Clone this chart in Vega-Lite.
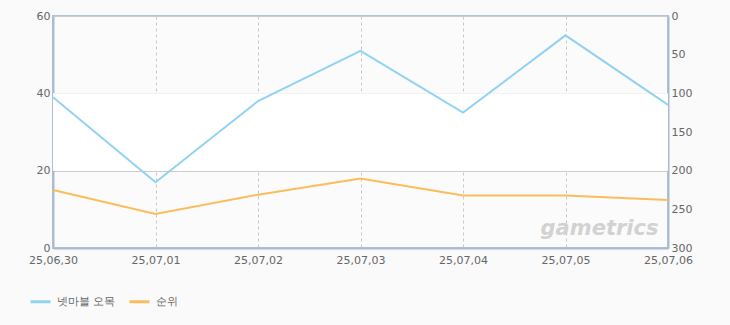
{
  "$schema": "https://vega.github.io/schema/vega-lite/v6.json",
  "width": 615,
  "height": 232,
  "autosize": "none",
  "padding": {"left": 53, "top": 16, "right": 62, "bottom": 77},
  "background": "#fafafa",
  "config": {
    "view": {"stroke": "#b4c3d6", "strokeWidth": 2, "fill": "#fbfbfb"},
    "font": "DejaVu Sans",
    "axis": {"labelColor": "#666666", "labelFontSize": 11, "ticks": false, "domain": true, "domainColor": "#aabbd0", "domainWidth": 2, "labelFont": "DejaVu Sans"}
  },
  "datasets": {
    "series": [
      {"date": "25,06,30", "series": "넷마블 오목", "value": 39},
      {"date": "25,07,01", "series": "넷마블 오목", "value": 17},
      {"date": "25,07,02", "series": "넷마블 오목", "value": 38},
      {"date": "25,07,03", "series": "넷마블 오목", "value": 51},
      {"date": "25,07,04", "series": "넷마블 오목", "value": 35},
      {"date": "25,07,05", "series": "넷마블 오목", "value": 55},
      {"date": "25,07,06", "series": "넷마블 오목", "value": 37},
      {"date": "25,06,30", "series": "순위", "value": 225},
      {"date": "25,07,01", "series": "순위", "value": 256},
      {"date": "25,07,02", "series": "순위", "value": 231},
      {"date": "25,07,03", "series": "순위", "value": 210},
      {"date": "25,07,04", "series": "순위", "value": 232},
      {"date": "25,07,05", "series": "순위", "value": 232},
      {"date": "25,07,06", "series": "순위", "value": 238}
    ],
    "band": [{"lo": 20, "hi": 40}],
    "mark": [{"date": "25,07,05", "label": "gametrics", "value": 5}]
  },
  "encoding": {
    "x": {
      "field": "date", "type": "nominal",
      "scale": {"type": "point", "padding": 0, "domain": ["25,06,30", "25,07,01", "25,07,02", "25,07,03", "25,07,04", "25,07,05", "25,07,06"]},
      "sort": null,
      "axis": {"title": null, "labelAngle": 0, "grid": true, "gridDash": [3, 3], "gridColor": "#c8c8c8", "labelPadding": 6}
    }
  },
  "layer": [
    {
      "layer": [
        {
          "data": {"name": "band"},
          "mark": {"type": "rect", "fill": "#ffffff"},
          "encoding": {
            "x": null,
            "y": {"field": "lo", "type": "quantitative", "scale": {"domain": [0, 60]}},
            "y2": {"field": "hi"}
          }
        },
        {
          "data": {"name": "mark"},
          "mark": {"type": "text", "fontSize": 21, "fontWeight": "bold", "fontStyle": "italic", "color": "#d2d2d2", "dx": 34, "baseline": "middle", "font": "DejaVu Sans"},
          "encoding": {
            "y": {"field": "value", "type": "quantitative"},
            "text": {"field": "label"}
          }
        },
        {
          "data": {"name": "series"},
          "transform": [{"filter": "datum.series === '넷마블 오목'"}],
          "mark": {"type": "line", "strokeWidth": 2},
          "encoding": {
            "y": {
              "field": "value", "type": "quantitative",
              "scale": {"domain": [0, 60], "nice": false},
              "axis": {"title": null, "values": [0, 20, 40, 60], "grid": true, "gridColor": "#cccccc", "labelPadding": 3}
            },
            "color": {
              "field": "series", "type": "nominal",
              "scale": {"domain": ["넷마블 오목", "순위"], "range": ["#92d2f2", "#fbbd5c"]},
              "legend": {
                "title": null, "orient": "none", "direction": "horizontal",
                "legendX": -24, "legendY": 274,
                "symbolType": "stroke", "symbolStrokeWidth": 3, "symbolSize": 400,
                "labelFontSize": 11, "labelColor": "#666666", "columnPadding": 7, "labelOffset": 5
              }
            }
          }
        }
      ]
    },
    {
      "data": {"name": "series"},
      "transform": [{"filter": "datum.series === '순위'"}],
      "mark": {"type": "line", "strokeWidth": 2},
      "encoding": {
        "y": {
          "field": "value", "type": "quantitative",
          "scale": {"domain": [0, 300], "reverse": true, "nice": false},
          "axis": {"title": null, "orient": "right", "values": [0, 50, 100, 150, 200, 250, 300], "grid": false, "labelPadding": 3}
        },
        "color": {"field": "series", "type": "nominal"}
      }
    }
  ],
  "resolve": {"scale": {"y": "independent"}}
}
